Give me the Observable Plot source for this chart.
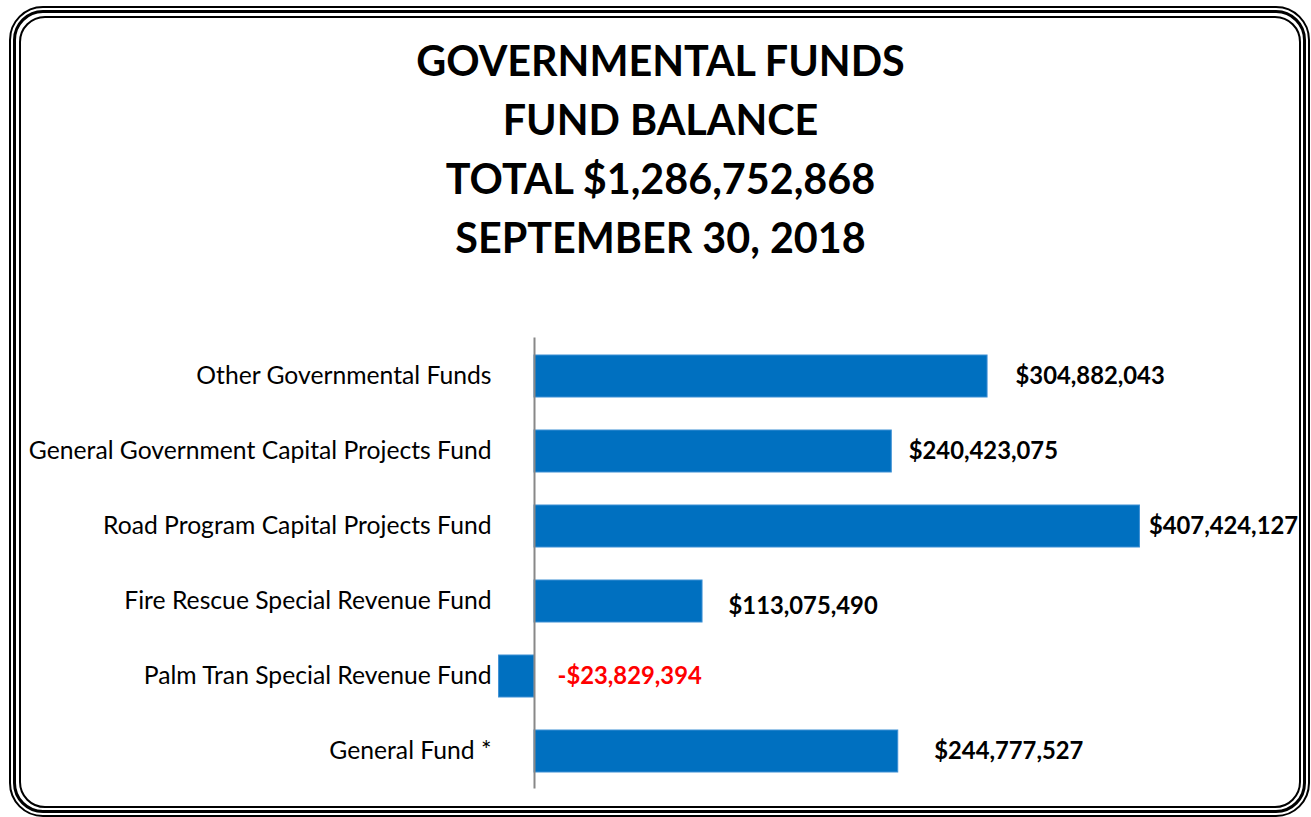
<!DOCTYPE html>
<html>
<head>
<meta charset="utf-8">
<script src="https://cdn.jsdelivr.net/npm/d3@7"></script>
<script src="https://cdn.jsdelivr.net/npm/@observablehq/plot@0.6"></script>
<style>
  html, body { margin: 0; padding: 0; background: #fff; }
  body { width: 1311px; height: 817px; position: relative; overflow: hidden; font-family: Lato, "Open Sans", sans-serif; }
  .frame1 { position: absolute; left: 9px; top: 6px; width: 1301px; height: 811px; box-sizing: border-box;
            border: 2px solid #000; border-radius: 34px; padding: 2px; pointer-events: none; }
  .frame2 { width: 100%; height: 100%; box-sizing: border-box; border: 3px solid #000; border-radius: 30px; padding: 2.5px; }
  .frame3 { width: 100%; height: 100%; box-sizing: border-box; border: 2px solid #000; border-radius: 26px; }
  #title { position: absolute; left: 10px; top: 0; width: 1301px; height: 300px; text-align: center;
           font-weight: 700; font-size: 41.3px; line-height: 59px; padding-top: 31px; box-sizing: border-box; color: #000; }
  #chart { position: absolute; left: 0; top: 300px; }
</style>
</head>
<body>
<div id="title"></div>
<div id="chart"></div>
<div class="frame1"><div class="frame2"><div class="frame3"></div></div></div>
<script>
// ---- data ----
const titleLines = ["GOVERNMENTAL FUNDS", "FUND BALANCE", "TOTAL $1,286,752,868", "SEPTEMBER 30, 2018"];
const categories = [
  "Other Governmental Funds",
  "General Government Capital Projects Fund",
  "Road Program Capital Projects Fund",
  "Fire Rescue Special Revenue Fund",
  "Palm Tran Special Revenue Fund",
  "General Fund *"
];
const balances = [304882043, 240423075, 407424127, 113075490, -23829394, 244777527];
const valueLabels = ["$304,882,043", "$240,423,075", "$407,424,127", "$113,075,490", "-$23,829,394", "$244,777,527"];

// ---- layout (label nudges, px) ----
const labelDx = [28, 17, 9, 26, 23, 36];
const labelDy = [0, 0, 0, 5, 0, 0];

const rows = categories.map((c, i) => ({
  category: c, value: balances[i], label: valueLabels[i], dx: labelDx[i], dy: labelDy[i]
}));

document.getElementById("title").innerHTML = titleLines.map(t => `<div>${t}</div>`).join("");

const labelFont = "Lato, 'Open Sans', sans-serif";
const chart = Plot.plot({
  width: 1311,
  height: 517,
  marginTop: 37.5,
  marginBottom: 28.5,
  marginLeft: 497,
  marginRight: 34,
  style: { fontFamily: labelFont, fontSize: "24.7px", color: "#000", background: "transparent", overflow: "visible" },
  x: { domain: [-24.9e6, 500e6], axis: null },
  y: { domain: categories, paddingInner: 0.44, paddingOuter: 0.22, label: null, tickSize: 0, tickPadding: 6 },
  marks: [
    Plot.barX(rows, { x: "value", y: "category", fill: "#0070C0", stroke: "#3d8fd4", strokeWidth: 1 }),
    Plot.ruleX([0], { stroke: "#888888", strokeWidth: 2 }),
    ...rows.map(r => Plot.text([r], {
      x: d => Math.max(d.value, 0), y: "category", text: "label",
      textAnchor: "start", dx: r.dx, dy: r.dy,
      fill: r.value < 0 ? "#FF0000" : "#000000",
      fontWeight: "bold", fontSize: 23.8
    }))
  ]
});
document.getElementById("chart").appendChild(chart);
</script>
</body>
</html>
